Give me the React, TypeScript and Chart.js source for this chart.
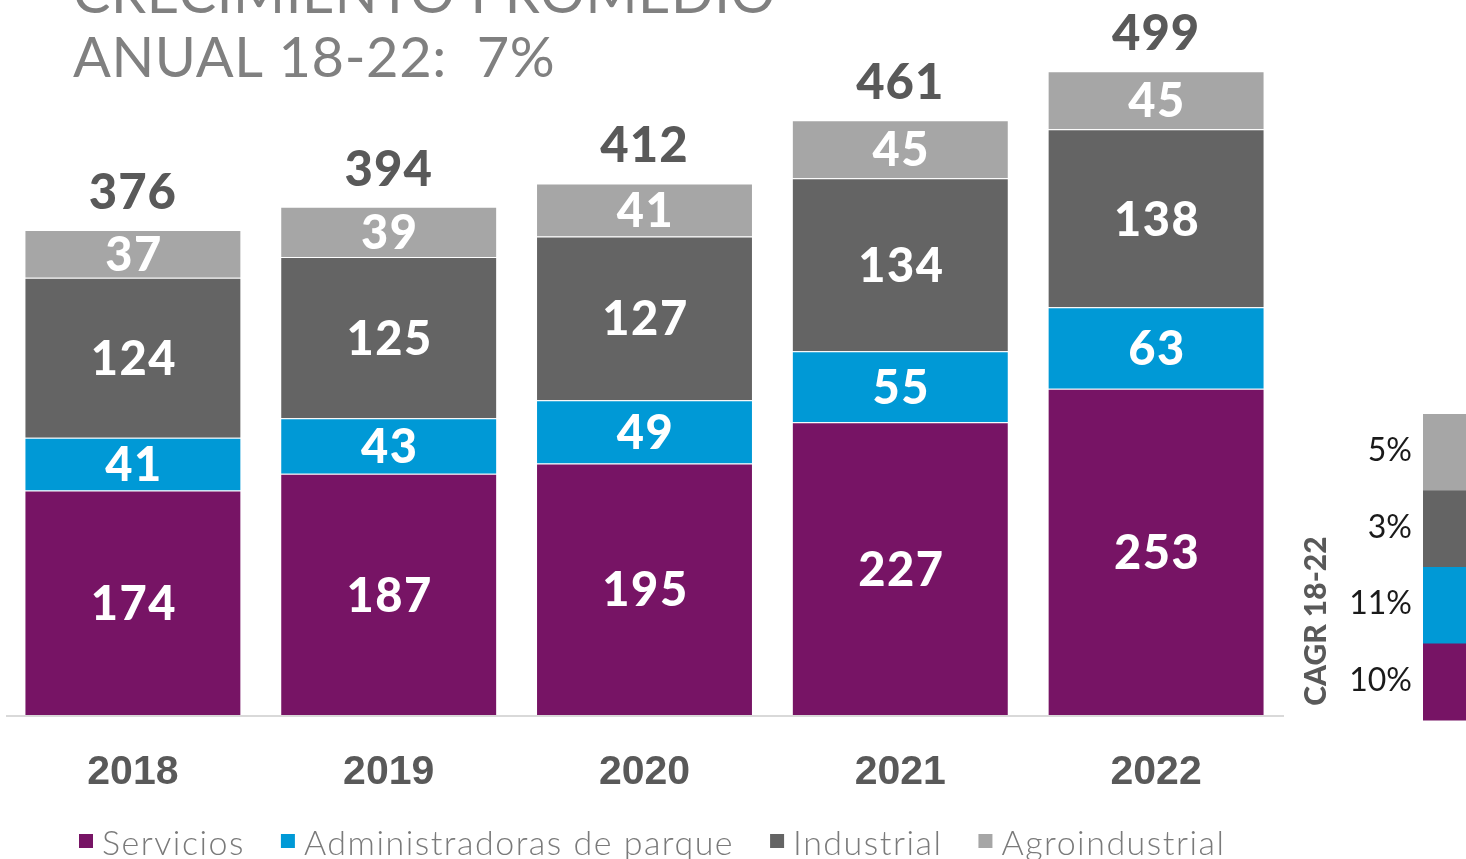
import React, { useEffect, useRef } from "react";
import { Chart, registerables } from "chart.js";

Chart.register(...registerables);

const categories = ["2018", "2019", "2020", "2021", "2022"];
const servicios = [174, 187, 195, 227, 253];
const administradoras = [41, 43, 49, 55, 63];
const industrial = [124, 125, 127, 134, 138];
const agroindustrial = [37, 39, 41, 45, 45];
const seriesNames = ["Servicios", "Administradoras de parque", "Industrial", "Agroindustrial"];
const seriesColors = ["#771465", "#0099d6", "#646464", "#a6a6a6"];
const cagrLabels = ["10%", "11%", "3%", "5%"];
const titleLines = ["CRECIMIENTO PROMEDIO", "ANUAL 18-22:  7%"];
const cagrTitle = "CAGR 18-22";

const FONT = "Lato, 'Open Sans', sans-serif";

const overlayPlugin = {
  id: "overlay",
  afterDatasetsDraw(chart: any) {
    const ctx = chart.ctx;
    const area = chart.chartArea;
    ctx.save();
    // segment labels
    chart.data.datasets.forEach((ds: any, di: number) => {
      const meta = chart.getDatasetMeta(di);
      meta.data.forEach((el: any, i: number) => {
        const y = (el.y + el.base) / 2;
        ctx.fillStyle = "#ffffff";
        ctx.font = `900 47px ${FONT}`;
        ctx.textAlign = "center";
        ctx.textBaseline = "middle";
        (ctx as any).letterSpacing = "1.5px";
        ctx.fillText(String(ds.data[i]), el.x + 1, y + 2);
      });
    });
    // totals
    const lastMeta = chart.getDatasetMeta(chart.data.datasets.length - 1);
    lastMeta.data.forEach((el: any, i: number) => {
      const total = chart.data.datasets.reduce((s: number, d: any) => s + d.data[i], 0);
      ctx.fillStyle = "#595959";
      ctx.font = `900 49px ${FONT}`;
      ctx.textAlign = "center";
      ctx.textBaseline = "middle";
      (ctx as any).letterSpacing = "1px";
      ctx.fillText(String(total), el.x, el.y - 37);
    });
    (ctx as any).letterSpacing = "0px";
    // baseline
    ctx.strokeStyle = "#d9d9d9";
    ctx.lineWidth = 2;
    ctx.beginPath();
    ctx.moveTo(area.left + 1, area.bottom + 1);
    ctx.lineTo(area.right, area.bottom + 1);
    ctx.stroke();
    // category labels
    const xs = chart.scales.x;
    ctx.fillStyle = "#595959";
    ctx.font = `bold 41px 'Liberation Sans Narrow', 'Arial Narrow', sans-serif`;
    ctx.textAlign = "center";
    ctx.textBaseline = "middle";
    chart.data.labels.forEach((lab: string, i: number) => {
      ctx.fillText(lab, xs.getPixelForValue(i), 773);
    });
    // title
    ctx.fillStyle = "#808080";
    ctx.font = `400 56px ${FONT}`;
    (ctx as any).letterSpacing = "0.6px";
    ctx.textAlign = "left";
    ctx.textBaseline = "alphabetic";
    ctx.fillText(titleLines[0], 73, 13);
    ctx.fillText(titleLines[1], 73, 77);
    // legend
    let lx = 79;
    ctx.font = `300 34px ${FONT}`;
    (ctx as any).letterSpacing = "1.5px";
    ctx.textBaseline = "middle";
    seriesNames.forEach((name, i) => {
      ctx.fillStyle = seriesColors[i];
      ctx.fillRect(lx, 834, 14, 14);
      lx += 14 + 9;
      ctx.fillStyle = "#7a7a7a";
      ctx.fillText(name, lx, 844);
      lx += ctx.measureText(name).width + 36;
    });
    (ctx as any).letterSpacing = "0px";
    // CAGR side legend
    const boxTop = 414;
    const boxH = 76.5;
    for (let k = 0; k < 4; k++) {
      const si = 3 - k;
      const y0 = boxTop + k * boxH;
      ctx.fillStyle = seriesColors[si];
      ctx.fillRect(1423, y0, 43, boxH + 0.5);
      ctx.fillStyle = "#1a1a1a";
      ctx.font = `400 32px ${FONT}`;
      ctx.textAlign = "right";
      ctx.textBaseline = "middle";
      ctx.fillText(cagrLabels[si], 1412, y0 + 37);
    }
    ctx.save();
    ctx.translate(1316, 621);
    ctx.rotate(-Math.PI / 2);
    ctx.fillStyle = "#595959";
    ctx.font = `900 30px ${FONT}`;
    ctx.textAlign = "center";
    ctx.textBaseline = "middle";
    ctx.fillText(cagrTitle, 0, 0);
    ctx.restore();
    ctx.restore();
  },
};

export default function App() {
  const ref = useRef<HTMLCanvasElement | null>(null);
  useEffect(() => {
    if (!ref.current) return;
    const seriesData = [servicios, administradoras, industrial, agroindustrial];
    const chart = new Chart(ref.current, {
      type: "bar",
      data: {
        labels: categories,
        datasets: seriesData.map((d, i) => ({
          label: seriesNames[i],
          data: d,
          backgroundColor: seriesColors[i],
          borderColor: "rgba(255,255,255,0.35)",
          borderWidth: 1,
          categoryPercentage: 1,
          barPercentage: 0.848,
        })),
      },
      options: {
        responsive: false,
        animation: false,
        layout: { padding: { left: 5, right: 182, top: 5.5, bottom: 144 } },
        plugins: { legend: { display: false }, tooltip: { enabled: false } },
        scales: {
          x: { stacked: true, display: false },
          y: { stacked: true, display: false, min: 0, max: 550 },
        },
      },
      plugins: [overlayPlugin],
    });
    return () => chart.destroy();
  }, []);
  return (
    <div style={{ position: "absolute", left: 0, top: 0, width: 1466, height: 859, background: "#fff" }}>
      <canvas ref={ref} width={1466} height={859} />
    </div>
  );
}
